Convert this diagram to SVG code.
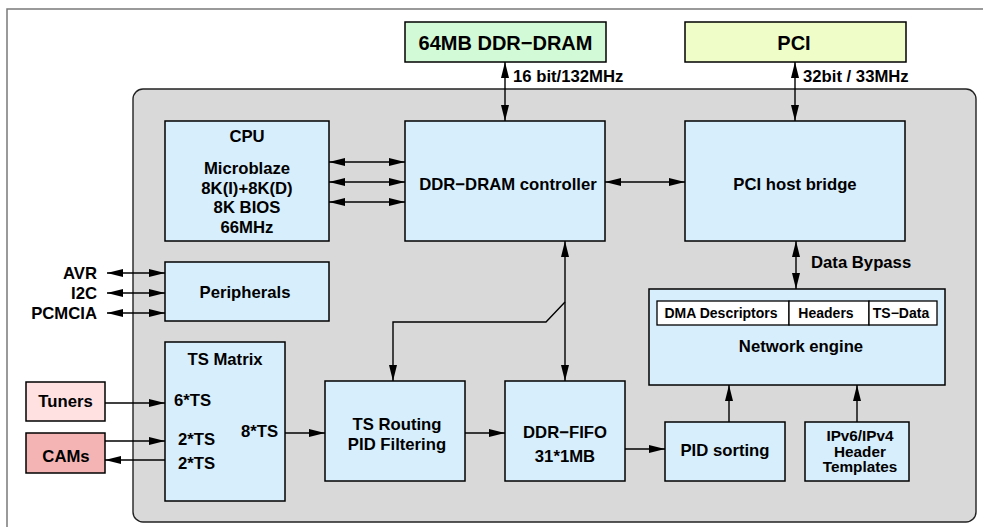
<svg xmlns="http://www.w3.org/2000/svg" width="983" height="527" viewBox="0 0 983 527">
  <defs>
    <marker id="ah" viewBox="0 0 16 8" refX="16" refY="4" markerWidth="16" markerHeight="8" markerUnits="userSpaceOnUse" orient="auto-start-reverse">
      <path d="M0,0 L16,4 L0,8 z" fill="#000"/>
    </marker>
    <style>
      text { font-family: "Liberation Sans", Arial, sans-serif; font-weight: bold; fill: #000; }
      .t { font-size: 16.7px; }
      .tc { font-size: 15.3px; }
      .big { font-size: 20px; }
      .sm { font-size: 14px; }
      .mid { text-anchor: middle; }
      .end { text-anchor: end; }
      .box { fill: #d7eefc; stroke: #000; stroke-width: 1.5; }
      .cell { fill: #ffffff; stroke: #000; stroke-width: 1.3; }
      .ln { fill: none; stroke: #000; stroke-width: 1.4; }
      .a1 { marker-end: url(#ah); }
      .a2 { marker-start: url(#ah); marker-end: url(#ah); }
    </style>
  </defs>

  <rect width="983" height="527" fill="#fff"/>
  <!-- page frame -->
  <rect x="7" y="9" width="1000" height="540" fill="none" stroke="#7a7a7a" stroke-width="1.5"/>
  <!-- chip outline -->
  <rect x="133" y="89" width="843" height="433" rx="10" ry="10" fill="#d9d9d9" stroke="#222" stroke-width="1.4"/>

  <g id="ddr-ram">
    <rect x="405" y="22" width="201" height="40" fill="#d2fad6" stroke="#000" stroke-width="1.5"/>
    <text class="big mid" x="505.5" y="50">64MB DDR−DRAM</text>
  </g>
  <g id="pci">
    <rect x="685" y="22" width="221" height="40" fill="#effdc9" stroke="#000" stroke-width="1.5"/>
    <text class="big mid" x="794" y="50">PCI</text>
  </g>

  <g id="cpu">
    <rect class="box" x="165" y="121" width="164" height="120"/>
    <text class="t mid" x="247" y="142">CPU</text>
    <text class="t mid" x="247" y="174">Microblaze</text>
    <text class="t mid" x="247" y="193.5">8K(I)+8K(D)</text>
    <text class="t mid" x="247" y="213">8K BIOS</text>
    <text class="t mid" x="247" y="232.5">66MHz</text>
  </g>
  <g id="ddr-controller">
    <rect class="box" x="405" y="121" width="200" height="120"/>
    <text class="t mid" x="508" y="190">DDR−DRAM controller</text>
  </g>
  <g id="pci-host-bridge">
    <rect class="box" x="685" y="121" width="220" height="120"/>
    <text class="t mid" x="795" y="190">PCI host bridge</text>
  </g>
  <g id="peripherals">
    <rect class="box" x="165" y="262" width="164" height="59"/>
    <text class="t mid" x="245" y="298">Peripherals</text>
  </g>
  <g id="ts-matrix">
    <rect class="box" x="165" y="342" width="120" height="159"/>
    <text class="t mid" x="225" y="365">TS Matrix</text>
    <text class="t" x="174" y="406">6*TS</text>
    <text class="t" x="178" y="445">2*TS</text>
    <text class="t" x="178" y="469">2*TS</text>
    <text class="t" x="241" y="437">8*TS</text>
  </g>
  <g id="tuners">
    <rect x="26" y="382" width="79" height="39" fill="#ffe1e1" stroke="#000" stroke-width="1.5"/>
    <text class="t mid" x="65.5" y="407">Tuners</text>
  </g>
  <g id="cams">
    <rect x="26" y="433" width="79" height="40" fill="#f5b4b4" stroke="#000" stroke-width="1.5"/>
    <text class="t mid" x="66" y="462">CAMs</text>
  </g>
  <g id="ts-routing">
    <rect class="box" x="325" y="381" width="140" height="100"/>
    <text class="t mid" x="397" y="430">TS Routing</text>
    <text class="t mid" x="397" y="450">PID Filtering</text>
  </g>
  <g id="ddr-fifo">
    <rect class="box" x="505" y="381" width="120" height="100"/>
    <text class="t mid" x="565" y="438">DDR−FIFO</text>
    <text class="t mid" x="565" y="462">31*1MB</text>
  </g>
  <g id="pid-sorting">
    <rect class="box" x="665" y="422" width="120" height="59"/>
    <text class="t mid" x="725" y="456">PID sorting</text>
  </g>
  <g id="header-templates">
    <rect class="box" x="805" y="422" width="104" height="59"/>
    <text class="tc mid" x="860" y="441">IPv6/IPv4</text>
    <text class="tc mid" x="860" y="456.5">Header</text>
    <text class="tc mid" x="860" y="472">Templates</text>
  </g>
  <g id="network-engine">
    <rect class="box" x="649" y="289" width="296" height="96"/>
    <rect class="cell" x="657" y="301" width="132" height="24"/>
    <rect class="cell" x="789" y="301" width="80" height="24"/>
    <rect class="cell" x="869" y="301" width="68" height="24"/>
    <text class="sm mid" x="721" y="318">DMA Descriptors</text>
    <text class="sm mid" x="826" y="318">Headers</text>
    <text class="sm mid" x="901" y="318">TS−Data</text>
    <text class="t mid" x="801" y="352">Network engine</text>
  </g>

  <g id="connectors">
    <line class="ln a2" x1="505" y1="62" x2="505" y2="121"/>
    <line class="ln a2" x1="795" y1="62" x2="795" y2="121"/>
    <line class="ln a2" x1="329" y1="162" x2="405" y2="162"/>
    <line class="ln a2" x1="329" y1="182" x2="405" y2="182"/>
    <line class="ln a2" x1="329" y1="202" x2="405" y2="202"/>
    <line class="ln a2" x1="605" y1="182" x2="685" y2="182"/>
    <line class="ln a2" x1="796" y1="241" x2="796" y2="289"/>
    <line class="ln a2" x1="565" y1="241" x2="565" y2="381"/>
    <polyline class="ln a1" points="565,302 546,322 393,322 393,381"/>
    <line class="ln a2" x1="107" y1="273" x2="165" y2="273"/>
    <line class="ln a2" x1="107" y1="293" x2="165" y2="293"/>
    <line class="ln a2" x1="107" y1="313" x2="165" y2="313"/>
    <line class="ln a1" x1="105" y1="403" x2="165" y2="403"/>
    <line class="ln a1" x1="105" y1="441" x2="165" y2="441"/>
    <line class="ln a1" x1="165" y1="460" x2="105" y2="460"/>
    <line class="ln a1" x1="285" y1="433" x2="325" y2="433"/>
    <line class="ln a1" x1="465" y1="433" x2="505" y2="433"/>
    <line class="ln a1" x1="625" y1="449" x2="665" y2="449"/>
    <line class="ln a1" x1="729" y1="422" x2="729" y2="385"/>
    <line class="ln a1" x1="857" y1="422" x2="857" y2="385"/>
  </g>

  <g id="labels">
    <text class="t" x="513" y="82">16 bit/132MHz</text>
    <text class="t" x="803" y="82">32bit / 33MHz</text>
    <text class="t" x="811" y="268">Data Bypass</text>
    <text class="t end" x="97" y="279">AVR</text>
    <text class="t end" x="97" y="299">I2C</text>
    <text class="t end" x="97" y="319">PCMCIA</text>
  </g>
</svg>
